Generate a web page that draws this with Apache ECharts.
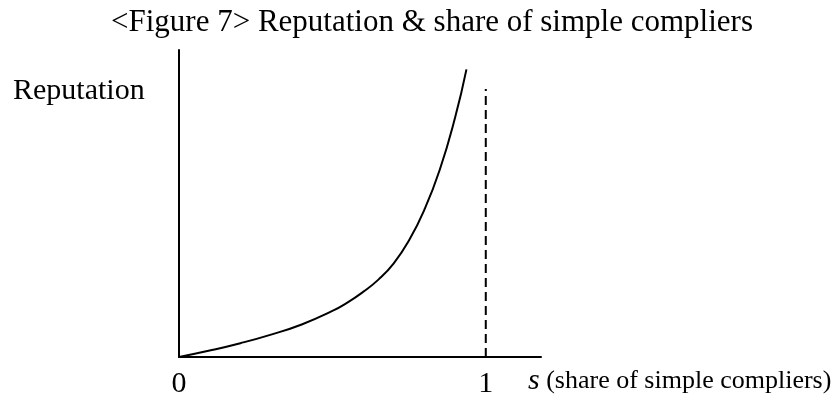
<!DOCTYPE html>
<html>
<head>
<meta charset="utf-8">
<title>Reputation & share of simple compliers</title>
<script src="https://cdn.jsdelivr.net/npm/echarts@6/dist/echarts.min.js"></script>
<style>
    html, body { margin: 0; padding: 0; background: #fff; }
    #chart { width: 832px; height: 408px; }
</style>
</head>
<body>
<div id="chart"></div>
<script>
// 曲线数据 (s, reputation)
const shareValues = [0, 0.1, 0.2, 0.3, 0.4, 0.5, 0.55, 0.6, 0.65, 0.7, 0.75, 0.8, 0.85, 0.9, 0.937];
const reputationValues = [0, 0.21, 0.45, 0.73, 1.06, 1.5, 1.78, 2.12, 2.52, 3.05, 3.8, 4.8, 6.1, 7.8, 9.37];
// s = 1 处的虚线
const limitShare = [1, 1];
const limitHeight = [0, 8.73];
// 坐标轴刻度标签
const tickLabels = [0, 1];

const serif = '"Liberation Serif", "DejaVu Serif", serif';

const chart = echarts.init(document.getElementById('chart'));

const option = {
    backgroundColor: '#fff',
    animation: false,
    title: {
        text: '<Figure 7> Reputation & share of simple compliers',
        left: 427,
        textAlign: 'center',
        top: 2,
        textStyle: {
            fontFamily: serif,
            fontSize: 31,
            fontWeight: 'normal',
            color: '#000'
        }
    },
    grid: { left: 179, right: 291, top: 50, bottom: 51 },
    xAxis: {
        type: 'value',
        min: 0,
        max: 1.18,
        axisLine: { show: true, onZero: false, lineStyle: { color: '#000', width: 2 } },
        axisTick: { show: false },
        splitLine: { show: false },
        axisLabel: {
            customValues: tickLabels,
            margin: 12,
            fontFamily: serif,
            fontSize: 30,
            color: '#000'
        }
    },
    yAxis: {
        type: 'value',
        min: 0,
        max: 10,
        axisLine: { show: true, onZero: false, lineStyle: { color: '#000', width: 2 } },
        axisTick: { show: false },
        splitLine: { show: false },
        axisLabel: { show: false }
    },
    graphic: [
        {
            type: 'text',
            left: 13,
            top: 76,
            style: {
                text: 'Reputation',
                font: '30px ' + serif,
                fill: '#000'
            }
        },
        {
            type: 'text',
            left: 528,
            top: 366,
            style: {
                text: '{i|s} (share of simple compliers)',
                font: '26px ' + serif,
                fill: '#000',
                rich: {
                    i: { fontFamily: serif, fontSize: 30, fontStyle: 'italic' }
                }
            }
        }
    ],
    series: [
        {
            name: 'Reputation',
            type: 'line',
            smooth: 0.5,
            showSymbol: false,
            data: shareValues.map((s, i) => [s, reputationValues[i]]),
            lineStyle: { color: '#000', width: 2 }
        },
        {
            name: 's = 1',
            type: 'line',
            showSymbol: false,
            data: limitShare.map((s, i) => [s, limitHeight[i]]),
            lineStyle: { color: '#000', width: 2, type: [9, 5] }
        }
    ]
};

chart.setOption(option);

window.addEventListener('resize', function() {
    chart.resize();
});
</script>
</body>
</html>
